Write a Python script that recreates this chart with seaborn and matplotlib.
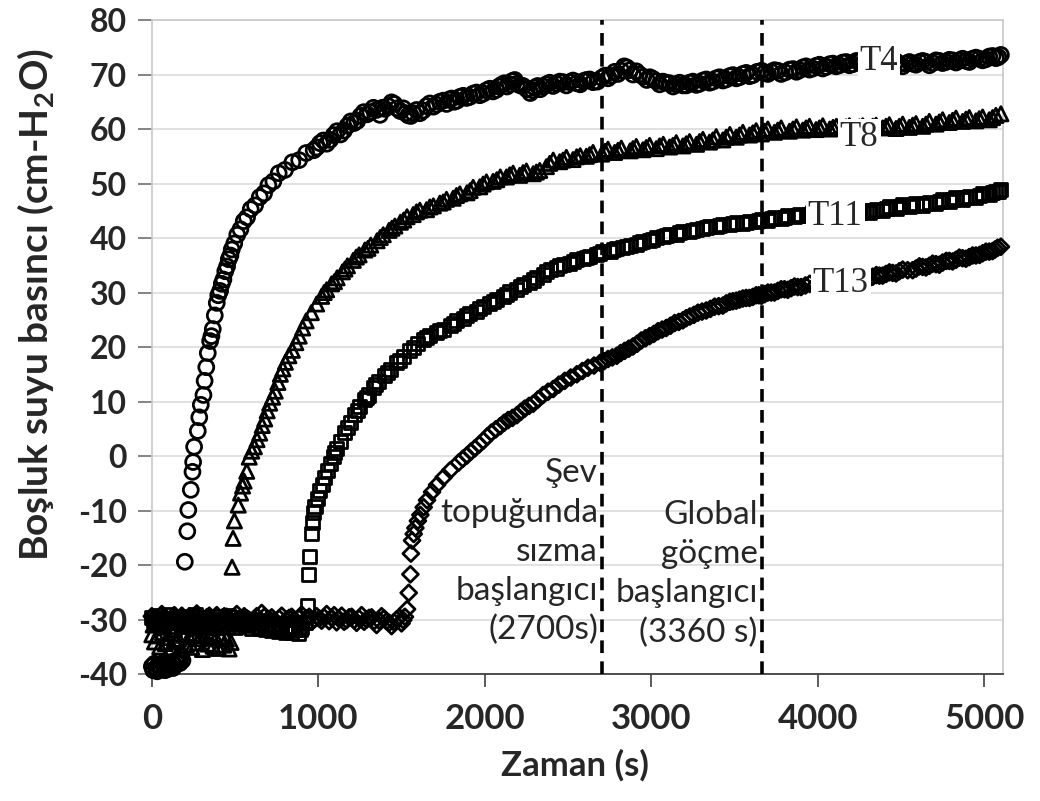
import matplotlib
matplotlib.use("Agg")
import matplotlib.pyplot as plt
import pandas as pd
import seaborn as sns

# pore water pressure readings, (time s, pressure cm-H2O)
t4_points = [
    (0, -38.6), (8, -39.3), (16, -38.1), (24, -38.9), (32, -39.5), (40, -38.3), (48, -38.8), (56, -39.1),
    (64, -38.0), (72, -38.7), (80, -39.3), (88, -38.5), (96, -38.2), (104, -39.0), (112, -38.6), (120, -37.8),
    (128, -38.9), (136, -38.4), (144, -37.5), (152, -38.1), (160, -37.2), (168, -38.0), (176, -36.8), (184, -37.5),
    (198, -19.4), (213, -13.8), (219, -9.9), (234, -6.2), (244, -2.9), (248, -1.1), (254, 1.7), (276, 4.6),
    (285, 7.1), (294, 9.4), (310, 11.2), (317, 13.8), (327, 16.3), (336, 18.9), (350, 21.1), (358, 22.0),
    (366, 23.3), (378, 25.8), (390, 28.1), (399, 29.5), (410, 30.3), (420, 31.6), (430, 32.4), (441, 33.9),
    (452, 34.8), (462, 36.1), (472, 36.8), (480, 37.9), (495, 39.0), (513, 40.6), (532, 41.6), (552, 43.1),
    (572, 43.8), (594, 45.3), (620, 46.0), (648, 47.5), (674, 48.2), (700, 49.7), (730, 50.4), (762, 51.9),
    (800, 52.5), (844, 53.9), (885, 54.3), (927, 55.6), (972, 56.1), (1010, 57.4), (1050, 57.3), (1092, 58.9),
    (1133, 59.0), (1175, 60.6), (1215, 61.1), (1253, 62.4), (1293, 62.7), (1331, 63.9), (1370, 62.6), (1400, 63.7),
    (1440, 64.9), (1473, 63.8), (1510, 63.8), (1540, 62.5), (1571, 62.9), (1610, 62.9), (1650, 64.2), (1691, 64.1),
    (1730, 65.0), (1770, 64.6), (1800, 65.6), (1833, 65.2), (1870, 66.1), (1910, 65.9), (1950, 66.7), (1991, 66.5),
    (2030, 67.4), (2070, 67.2), (2100, 68.1), (2133, 67.8), (2165, 68.8), (2193, 68.3), (2230, 67.9), (2273, 66.6),
    (2300, 67.6), (2333, 67.3), (2370, 68.2), (2410, 67.9), (2450, 68.7), (2490, 68.0), (2530, 68.9), (2573, 68.2),
    (2610, 69.0), (2650, 68.6), (2703, 69.4), (2740, 69.3), (2780, 70.5), (2820, 70.7), (2853, 71.3), (2890, 70.0),
    (2930, 70.0), (2973, 69.0), (3010, 69.2), (3050, 68.2), (3090, 68.5), (3131, 67.8), (3170, 68.5), (3210, 68.0),
    (3250, 68.7), (3290, 68.3), (3330, 69.1), (3370, 68.7), (3410, 69.5), (3450, 69.1), (3490, 69.9), (3530, 69.5),
    (3570, 70.3), (3610, 69.9), (3662, 70.7), (3700, 70.1), (3740, 70.8), (3780, 70.1), (3830, 70.9), (3872, 70.5),
    (3910, 71.3), (3950, 70.9), (3990, 71.6), (4030, 71.1), (4072, 71.9), (4110, 71.5), (4150, 72.2), (4190, 71.7),
    (4232, 72.5), (4270, 72.0), (4310, 72.6), (4350, 72.1), (4390, 72.7), (4430, 72.2), (4470, 72.4), (4510, 71.5),
    (4550, 72.3), (4590, 71.8), (4630, 72.5), (4670, 71.7), (4710, 72.6), (4750, 72.1), (4790, 72.7), (4830, 72.2),
    (4870, 72.9), (4910, 72.3), (4950, 73.1), (4990, 72.6), (5030, 73.3), (5070, 73.0), (5100, 73.6),
    # extra readings between the ones above
    (990, 56.6), (1030, 57.9), (1071, 58.0), (1112, 59.6), (1154, 59.7), (1195, 61.4), (1234, 61.5), (1273, 63.1),
    (1312, 63.1), (1350, 63.5), (1385, 63.9), (1420, 64.2), (1456, 64.6), (1492, 63.3), (1525, 62.9), (1556, 62.4),
    (1590, 63.5), (1630, 63.4), (1670, 64.7), (1710, 64.5), (1750, 65.2), (1785, 65.4), (1816, 65.0), (1851, 65.9),
    (1890, 65.7), (1930, 66.5), (1970, 66.2), (2010, 67.1), (2050, 66.9), (2085, 67.8), (2117, 68.4), (2150, 68.2),
    (2180, 69.0), (2212, 68.0), (2252, 67.3), (2287, 67.1), (2317, 67.9), (2352, 67.8), (2390, 68.5), (2430, 68.3),
    (2470, 68.6), (2510, 68.6), (2552, 68.4), (2592, 68.8), (2630, 69.1), (2676, 68.7), (2722, 69.8), (2760, 69.8),
    (2800, 70.1), (2837, 71.5), (2872, 70.8), (2910, 70.6), (2952, 69.6), (2992, 69.5), (3030, 68.8), (3070, 68.7),
    (3110, 68.4), (3150, 68.2), (3190, 68.0), (3230, 68.5), (3270, 68.1), (3310, 68.9), (3350, 68.5), (3390, 69.3),
    (3430, 68.9), (3470, 69.7), (3510, 69.3), (3550, 70.1), (3590, 69.7), (3636, 70.5), (3681, 70.3), (3720, 70.5),
    (3760, 70.7), (3805, 70.4), (3851, 71.0), (3891, 70.8), (3930, 71.5), (3970, 71.1), (4010, 71.8), (4051, 71.4),
    (4091, 72.0), (4130, 71.7), (4170, 72.3), (4211, 71.9), (4251, 72.4), (4290, 72.4), (4330, 72.1), (4370, 72.6),
    (4410, 72.3), (4450, 72.6), (4490, 71.9), (4530, 72.0), (4570, 72.0), (4610, 72.3), (4650, 72.3), (4690, 72.1),
    (4730, 72.5), (4770, 72.3), (4810, 72.6), (4850, 72.6), (4890, 72.5), (4930, 72.9), (4970, 72.9), (5010, 72.8),
    (5050, 73.4), (5085, 73.2),
]

t8_points = [
    (0, -32.8), (16, -34.1), (32, -33.0), (48, -35.0), (64, -32.4), (80, -34.4), (96, -33.3), (112, -35.2),
    (128, -32.6), (144, -34.0), (160, -33.6), (176, -35.4), (192, -32.9), (208, -34.6), (224, -33.2), (240, -35.1),
    (256, -32.7), (272, -34.3), (288, -33.5), (304, -35.5), (320, -33.0), (336, -34.5), (352, -32.6), (368, -34.9),
    (384, -33.4), (400, -35.3), (416, -33.1), (432, -34.7), (448, -33.6), (464, -35.4), (476, -34.2),
    (8, -31.0), (40, -30.2), (72, -31.4), (104, -30.6), (136, -31.8), (168, -30.4), (200, -31.2), (232, -30.8),
    (264, -31.6), (296, -30.3), (328, -31.1), (360, -30.7), (392, -31.5), (424, -30.5), (456, -31.3),
    (482, -20.4), (488, -15.1), (496, -11.9), (519, -9.0), (533, -6.8), (545, -5.5), (554, -4.6), (570, -2.8),
    (585, -0.2), (600, 0.9), (616, 1.7), (632, 3.0), (648, 4.2), (663, 5.6), (678, 6.8), (693, 8.3),
    (708, 9.7), (725, 10.8), (741, 11.9), (757, 13.5), (772, 15.0), (787, 16.0), (802, 17.2), (823, 18.4),
    (844, 19.4), (865, 20.8), (885, 22.0), (906, 23.5), (927, 24.8), (958, 26.3), (990, 27.9), (1020, 29.3),
    (1050, 30.5), (1080, 31.6), (1113, 32.7), (1145, 33.8), (1175, 34.9), (1210, 35.9), (1245, 36.9), (1280, 37.8),
    (1315, 38.7), (1353, 39.5), (1390, 40.6), (1425, 41.4), (1460, 42.2), (1493, 42.9), (1533, 43.9), (1570, 44.3),
    (1610, 45.1), (1650, 45.2), (1691, 45.9), (1730, 46.4), (1770, 47.1), (1810, 47.3), (1850, 48.1), (1893, 48.3),
    (1930, 49.3), (1970, 49.4), (2010, 50.3), (2050, 50.4), (2093, 51.2), (2130, 51.2), (2170, 51.9), (2210, 51.5),
    (2250, 52.3), (2291, 51.8), (2330, 52.4), (2370, 53.1), (2411, 54.3), (2450, 54.0), (2490, 54.8), (2530, 54.4),
    (2573, 55.1), (2610, 55.0), (2650, 55.7), (2703, 55.4), (2740, 56.3), (2780, 55.7), (2820, 56.5), (2873, 56.0),
    (2910, 56.8), (2950, 56.2), (2990, 57.0), (3030, 56.4), (3072, 57.2), (3110, 56.7), (3150, 57.5), (3190, 56.9),
    (3230, 57.7), (3272, 57.2), (3310, 58.1), (3350, 57.6), (3390, 58.6), (3430, 58.0), (3472, 59.0), (3510, 58.5),
    (3550, 59.4), (3590, 58.9), (3630, 59.7), (3662, 59.1), (3700, 60.0), (3740, 59.4), (3780, 60.2), (3830, 59.6),
    (3872, 60.4), (3910, 59.8), (3950, 60.5), (3990, 59.9), (4030, 60.6), (4072, 60.0), (4112, 60.5), (4150, 60.2),
    (4190, 60.6), (4230, 60.1), (4270, 60.6), (4310, 60.2), (4350, 60.7), (4390, 60.2), (4430, 60.8), (4470, 60.1),
    (4510, 60.9), (4550, 60.3), (4590, 61.0), (4630, 60.5), (4670, 61.4), (4710, 60.9), (4750, 61.7), (4790, 61.2),
    (4830, 62.0), (4870, 61.4), (4910, 62.1), (4950, 61.5), (4990, 62.2), (5030, 61.7), (5070, 62.5), (5100, 62.8),
    # extra readings between the ones above
    (1035, 30.0), (1097, 32.0), (1160, 34.3), (1228, 36.5), (1298, 38.1), (1372, 40.1), (1442, 41.8), (1513, 43.3),
    (1590, 44.8), (1670, 45.7), (1750, 46.6), (1830, 47.8), (1912, 48.7), (1990, 49.9), (2072, 50.7), (2150, 51.6),
    (2230, 52.0), (2310, 52.1), (2390, 53.7), (2470, 54.3), (2552, 54.9), (2630, 55.3), (2722, 55.9), (2800, 56.1),
    (2890, 56.4), (2970, 56.6), (3050, 56.9), (3130, 57.0), (3210, 57.3), (3290, 57.7), (3370, 58.0), (3450, 58.5),
    (3530, 58.9), (3610, 59.3), (3681, 59.6), (3760, 59.8), (3851, 60.0), (3930, 60.2), (4010, 60.2), (4092, 60.3),
    (4170, 60.4), (4250, 60.4), (4330, 60.5), (4410, 60.5), (4490, 60.5), (4570, 60.7), (4650, 60.9), (4730, 61.3),
    (4810, 61.6), (4890, 61.8), (4970, 61.9), (5050, 62.1),
]

t11_points = [
    (0, -29.6), (20, -30.8), (40, -29.2), (60, -31.0), (80, -30.1), (100, -29.0), (120, -31.2), (140, -30.3),
    (160, -29.4), (180, -30.9), (200, -29.8), (220, -31.3), (240, -30.0), (260, -29.1), (280, -30.7), (300, -31.4),
    (320, -29.7), (340, -30.5), (360, -31.1), (380, -29.5), (400, -30.6), (420, -31.3), (440, -30.0), (460, -29.3),
    (480, -30.8), (500, -31.5), (520, -30.2), (540, -29.6), (560, -31.0), (580, -30.4), (600, -31.6), (620, -30.1),
    (640, -31.2), (660, -30.6), (680, -31.8), (700, -30.9), (720, -32.0), (740, -31.3), (760, -32.2), (780, -31.1),
    (800, -32.4), (820, -31.5), (840, -32.3), (860, -31.2), (880, -32.5), (900, -31.4), (920, -30.5),
    (934, -27.4), (942, -21.7), (948, -18.5), (958, -14.2), (964, -12.2), (971, -10.3), (980, -9.2), (994, -7.8),
    (1008, -6.4), (1024, -5.2), (1040, -3.9), (1054, -2.7), (1072, -1.3), (1092, -0.1), (1112, 1.3), (1133, 2.6),
    (1160, 4.4), (1193, 6.2), (1220, 7.6), (1250, 9.0), (1275, 10.3), (1300, 11.2), (1330, 12.6), (1360, 13.6),
    (1395, 14.8), (1433, 15.9), (1470, 17.1), (1510, 18.2), (1550, 19.4), (1593, 20.6), (1630, 21.3), (1670, 22.1),
    (1710, 22.6), (1750, 23.3), (1793, 23.9), (1830, 24.8), (1870, 25.3), (1910, 26.2), (1950, 26.6), (1991, 27.5),
    (2030, 28.0), (2070, 28.8), (2110, 29.2), (2150, 30.1), (2193, 30.6), (2230, 31.5), (2270, 31.9), (2310, 32.8),
    (2350, 33.3), (2393, 34.2), (2430, 34.5), (2470, 35.2), (2510, 35.4), (2550, 36.0), (2591, 36.2), (2630, 36.7),
    (2670, 36.9), (2710, 37.5), (2753, 37.6), (2790, 38.1), (2830, 38.2), (2873, 38.7), (2910, 38.9), (2950, 39.4),
    (2990, 39.5), (3030, 40.1), (3072, 40.2), (3110, 40.7), (3150, 40.7), (3190, 41.2), (3230, 41.2), (3272, 41.6),
    (3310, 41.7), (3350, 42.1), (3390, 42.1), (3430, 42.5), (3472, 42.4), (3510, 42.8), (3550, 42.7), (3590, 43.1),
    (3630, 43.0), (3662, 43.4), (3700, 43.3), (3740, 43.7), (3780, 43.6), (3820, 44.1), (3860, 43.9), (3892, 44.4),
    (3930, 44.1), (3970, 44.6), (4010, 44.3), (4050, 44.8), (4090, 44.4), (4130, 44.9), (4170, 44.5), (4210, 45.0),
    (4250, 44.6), (4290, 45.1), (4312, 44.6), (4350, 45.3), (4390, 45.0), (4430, 45.7), (4472, 45.4), (4510, 46.1),
    (4550, 45.7), (4590, 46.4), (4630, 46.0), (4672, 46.6), (4710, 46.4), (4750, 47.0), (4790, 46.7), (4830, 47.4),
    (4872, 47.0), (4910, 47.7), (4950, 47.4), (4990, 48.1), (5030, 47.9), (5070, 48.6), (5100, 48.9),
    # extra readings between the ones above
    (10, -30.2), (50, -30.4), (90, -29.8), (130, -30.6), (170, -30.0), (210, -30.6), (250, -29.5), (290, -30.2),
    (330, -30.9), (370, -30.1), (410, -30.0), (450, -30.7), (490, -30.1), (530, -30.9), (570, -30.2), (610, -30.8),
    (650, -31.7), (690, -31.2), (730, -31.5), (770, -31.7), (810, -31.8), (850, -31.9), (890, -31.8), (1100, 0.6),
    (1176, 5.3), (1235, 8.3), (1287, 10.8), (1345, 13.1), (1414, 15.3), (1490, 17.6), (1572, 20.0), (1650, 21.7),
    (1730, 23.0), (1812, 24.3), (1890, 25.8), (1970, 27.0), (2050, 28.4), (2130, 29.6), (2212, 31.1), (2290, 32.3),
    (2372, 33.8), (2450, 34.9), (2530, 35.7), (2610, 36.5), (2690, 37.2), (2772, 37.9), (2852, 38.5), (2930, 39.1),
    (3010, 39.8), (3090, 40.4), (3170, 41.0), (3250, 41.4), (3330, 41.9), (3410, 42.3), (3490, 42.6), (3570, 42.9),
    (3646, 43.2), (3720, 43.5), (3800, 43.8), (3876, 44.2), (3950, 44.4), (4030, 44.5), (4110, 44.7), (4190, 44.8),
    (4270, 44.9), (4330, 45.0), (4410, 45.4), (4490, 45.8), (4570, 46.0), (4650, 46.3), (4730, 46.7), (4810, 47.0),
    (4890, 47.4), (4970, 47.8), (5050, 48.3), (5085, 48.5),
]

t13_points = [
    (0, -29.4), (30, -30.6), (60, -29.0), (90, -30.2), (120, -29.7), (150, -30.9), (180, -29.3), (210, -30.4),
    (240, -29.8), (270, -28.9), (300, -30.5), (330, -29.6), (360, -30.8), (390, -29.2), (420, -30.1), (450, -29.5),
    (480, -30.7), (510, -29.0), (540, -30.3), (570, -29.8), (600, -30.6), (630, -29.4), (660, -28.8), (690, -30.2),
    (720, -29.6), (750, -30.9), (780, -29.3), (810, -30.0), (840, -29.5), (870, -30.6), (900, -29.1), (930, -29.8),
    (960, -30.4), (990, -29.4), (1020, -30.2), (1050, -29.0), (1080, -29.7), (1110, -30.5), (1140, -29.3), (1170, -30.1),
    (1200, -29.5), (1230, -30.6), (1260, -29.2), (1290, -30.0), (1320, -29.6), (1350, -31.0), (1380, -29.4), (1410, -30.3),
    (1440, -31.2), (1470, -30.0), (1500, -30.7), (1520, -29.5),
    (1533, -28.1), (1543, -25.1), (1553, -21.7), (1556, -17.9), (1563, -15.5), (1573, -14.3), (1583, -13.2), (1598, -11.9),
    (1613, -10.8), (1633, -9.4), (1653, -8.1), (1683, -6.6), (1713, -5.3), (1753, -3.9), (1793, -2.6), (1843, -1.2),
    (1893, 0.1), (1940, 1.4), (1991, 2.8), (2040, 4.3), (2093, 5.5), (2140, 6.6), (2193, 7.5), (2240, 8.7),
    (2291, 9.6), (2350, 11.2), (2411, 12.3), (2480, 13.8), (2553, 15.0), (2620, 16.2), (2693, 17.1), (2740, 17.8),
    (2793, 18.4), (2840, 19.3), (2890, 20.1), (2940, 21.2), (2990, 22.0), (3040, 22.9), (3090, 23.5), (3140, 24.4),
    (3190, 24.9), (3232, 25.6), (3280, 26.3), (3330, 26.7), (3380, 27.4), (3430, 27.6), (3472, 28.3), (3510, 28.5),
    (3550, 28.9), (3590, 29.0), (3630, 29.5), (3662, 29.4), (3700, 30.0), (3740, 30.0), (3780, 30.6), (3820, 30.5),
    (3860, 31.1), (3900, 31.0), (3952, 31.6), (3990, 31.5), (4030, 32.0), (4070, 31.7), (4110, 32.3), (4150, 32.0),
    (4190, 32.6), (4230, 32.3), (4270, 32.9), (4310, 32.6), (4352, 33.2), (4390, 33.1), (4430, 33.7), (4470, 33.5),
    (4510, 34.2), (4570, 34.1), (4610, 34.8), (4650, 34.6), (4690, 35.3), (4730, 35.1), (4772, 35.8), (4810, 35.7),
    (4850, 36.4), (4890, 36.2), (4930, 36.8), (4972, 36.9), (5010, 37.5), (5050, 37.6), (5080, 38.2), (5100, 38.4),
    # extra readings between the ones above
    (15, -29.9), (45, -30.1), (75, -29.6), (105, -30.7), (135, -29.2), (165, -30.3), (195, -29.9), (225, -29.4),
    (255, -30.5), (285, -29.7), (315, -30.1), (345, -29.3), (375, -30.2), (405, -30.5), (435, -29.4), (465, -30.2),
    (495, -29.6), (525, -30.6), (555, -29.4), (585, -30.1), (615, -29.9), (645, -30.2), (675, -29.5), (705, -29.9),
    (735, -30.3), (765, -29.8), (795, -30.5), (825, -29.7), (855, -30.1), (885, -29.8), (915, -30.3), (945, -29.5),
    (975, -30.0), (1005, -29.8), (1035, -29.6), (1065, -30.3), (1095, -29.2), (1125, -29.9), (1155, -30.4), (1185, -29.6),
    (1215, -30.1), (1245, -29.8), (1275, -30.4), (1305, -29.7), (1335, -30.3), (1365, -30.2), (1395, -29.8), (1425, -30.6),
    (1455, -30.5), (1485, -29.6), (1510, -30.1), (1868, -0.5), (1916, 0.8), (1965, 2.1), (2015, 3.6), (2066, 4.9),
    (2116, 6.1), (2166, 7.0), (2216, 8.1), (2266, 9.2), (2320, 10.4), (2380, 11.8), (2445, 13.1), (2516, 14.4),
    (2586, 15.6), (2656, 16.6), (2716, 17.4), (2766, 18.1), (2816, 18.9), (2865, 19.7), (2915, 20.6), (2965, 21.6),
    (3015, 22.4), (3065, 23.2), (3115, 23.9), (3165, 24.6), (3210, 25.3), (3256, 25.9), (3305, 26.5), (3355, 27.0),
    (3405, 27.5), (3450, 28.0), (3490, 28.4), (3530, 28.7), (3570, 29.0), (3610, 29.2), (3646, 29.5), (3681, 29.7),
    (3720, 30.0), (3760, 30.3), (3800, 30.6), (3840, 30.8), (3880, 31.0), (3926, 31.3), (4250, 32.6), (4290, 32.8),
    (4330, 32.9), (4370, 33.1), (4410, 33.4), (4450, 33.6), (4490, 33.9), (4540, 34.1), (4590, 34.4), (4630, 34.7),
    (4670, 34.9), (4710, 35.2), (4750, 35.5), (4790, 35.8), (4830, 36.0), (4870, 36.3), (4910, 36.5), (4950, 36.8),
    (4990, 37.2), (5030, 37.5), (5065, 37.9),
]

sensors = ["T4", "T8", "T11", "T13"]
markers = {"T4": "o", "T8": "^", "T11": "s", "T13": "D"}
sizes = {"T4": 115, "T8": 105, "T11": 88, "T13": 66}
# label anchor (time, pressure) for the sensor names
label_pos = {"T4": (4252, 72.3), "T8": (4132, 58.5), "T11": (3940, 43.9), "T13": (3970, 31.7)}

event_times = [2705, 3665]
event_texts = ["Şev\ntopuğunda\nsızma\nbaşlangıcı\n(2700s)", "Global\ngöçme\nbaşlangıcı\n(3360 s)"]

frames = []
for name, pts in zip(sensors, [t4_points, t8_points, t11_points, t13_points]):
    d = pd.DataFrame(pts, columns=["Zaman", "Basinc"])
    d["Sensor"] = name
    frames.append(d.sort_values("Zaman"))
df = pd.concat(frames, ignore_index=True)

sns.set_style("white")
plt.rcParams["font.family"] = ["Lato", "DejaVu Sans"]
plt.rcParams["axes.unicode_minus"] = False
plt.rcParams["mathtext.fontset"] = "custom"
plt.rcParams["mathtext.rm"] = "Lato:bold"
plt.rcParams["mathtext.bf"] = "Lato:bold"

fig = plt.figure(figsize=(10.4, 8.01), dpi=100)
ax = fig.add_axes([0.146, 0.1585, 0.818, 0.8165])

for name in sensors:
    sub = df[df["Sensor"] == name]
    sns.scatterplot(data=sub, x="Zaman", y="Basinc", marker=markers[name], s=sizes[name],
                    facecolor="none", edgecolor="black", linewidth=2.0, ax=ax,
                    legend=False, zorder=3, clip_on=False)

for name in sensors:
    x, y = label_pos[name]
    ax.text(x, y, name, family="Liberation Serif", fontsize=25, ha="left", va="center",
            zorder=5, bbox=dict(facecolor="white", edgecolor="none", pad=1.5))

for t in event_times:
    ax.axvline(t, color="black", lw=2.6, ls=(0, (3.5, 2.3)), zorder=4)

ax.text(2680, -17.6, event_texts[0], fontsize=24, color="#262626", ha="right", va="center",
        multialignment="right", linespacing=1.38, zorder=2)
ax.text(3640, -21.6, event_texts[1], fontsize=24, color="#262626", ha="right", va="center",
        multialignment="right", linespacing=1.38, zorder=2)

ax.set_xlim(0, 5110)
ax.set_ylim(-40, 80)
ax.set_xticks([0, 1000, 2000, 3000, 4000, 5000])
ax.set_yticks(list(range(-40, 81, 10)))
ax.yaxis.grid(True, color="#dedede", lw=1.3)
ax.set_axisbelow(True)

for side in ["top", "right", "left"]:
    ax.spines[side].set_color("#c8c8c8")
    ax.spines[side].set_linewidth(1.2)
ax.spines["bottom"].set_color("#404040")
ax.spines["bottom"].set_linewidth(1.3)

ax.tick_params(axis="y", direction="out", length=10, width=1.2, color="#707070", pad=8,
               labelsize=23, left=True)
ax.tick_params(axis="x", direction="out", length=9, width=1.2, color="#404040", pad=12,
               labelsize=25, bottom=True)
for lab in ax.get_xticklabels() + ax.get_yticklabels():
    lab.set_fontweight("bold")

ax.set_xlabel("Zaman (s)", fontsize=25, fontweight="bold")
ax.set_ylabel(r"Boşluk suyu basıncı (cm-H$_2$O)", fontsize=28, fontweight="bold")
ax.xaxis.set_label_coords(0.497, -0.115)
ax.yaxis.set_label_coords(-0.113, 0.565)

plt.savefig("out.png", dpi=100)
